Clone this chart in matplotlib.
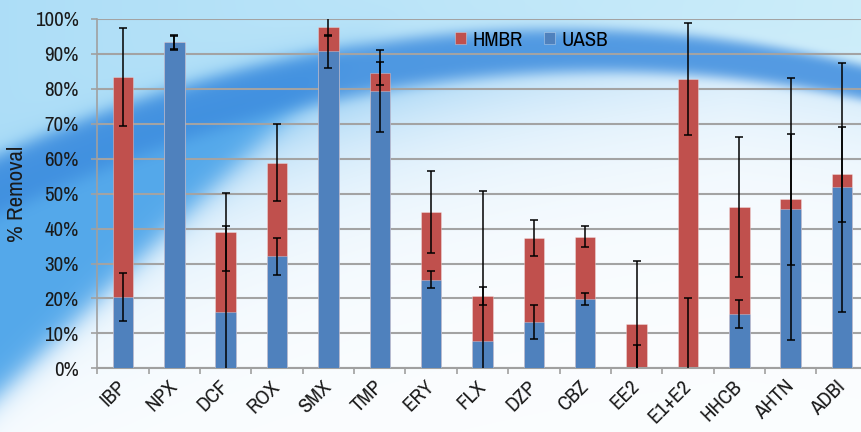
import numpy as np
import matplotlib
matplotlib.use("Agg")
import matplotlib.pyplot as plt
from matplotlib.ticker import PercentFormatter

# data (percent removal)
compounds = ["IBP", "NPX", "DCF", "ROX", "SMX", "TMP", "ERY", "FLX",
             "DZP", "CBZ", "EE2", "E1+E2", "HHCB", "AHTN", "ADBI"]
hmbr = [83.5, 93.3, 39.0, 58.9, 97.7, 84.5, 44.7, 20.7, 37.3, 37.6, 12.6, 82.8, 46.1, 48.4, 55.5]
uasb = [20.4, 93.3, 16.0, 32.1, 90.8, 79.3, 25.4, 7.8, 13.3, 19.8, 0.0, 0.0, 15.6, 45.6, 51.8]
hmbr_err_lo = [14.0, 1.9, 11.2, 11.0, 2.6, 3.3, 11.8, 2.7, 5.1, 3.0, 18.0, 16.1, 20.0, 18.7, 13.6]
hmbr_err_hi = [14.0, 1.9, 1.7, 11.0, 2.6, 3.3, 11.8, 2.7, 5.1, 3.0, 18.0, 16.1, 20.0, 18.7, 13.6]
uasb_err = [7.0, 2.2, 34.3, 5.3, 4.7, 11.7, 2.35, 43.0, 4.8, 1.8, 6.8, 20.0, 4.0, 37.5, 35.7]

RED = "#C0504D"
BLUE = "#4F81BD"

plt.rcParams['font.family'] = ['Archivo Narrow', 'Liberation Sans', 'DejaVu Sans']

W, H = 861, 432
fig = plt.figure(figsize=(W / 100, H / 100), dpi=100)

# --- background picture (blue swoosh) ---
yy, xx = np.mgrid[0:H, 0:W].astype(float)
top_l = np.array([0.68, 0.87, 0.97])
top_r = np.array([0.80, 0.93, 0.98])
mid = np.array([0.33, 0.66, 0.92])
pale = np.array([0.55, 0.79, 0.95])
white = np.array([0.985, 0.993, 1.0])
dark = np.array([0.24, 0.55, 0.87])

c = 0.0004 * (xx - 580) ** 2 + 50       # centre of the dark swoosh
hw = 32 - 0.016 * xx                    # its half width

tx = (xx / W)[..., None]
top_part = top_l * (1 - tx) + top_r * tx

# below the swoosh: pale fading to white, with a blue wedge on the left
dist = np.clip(yy - c - hw, 0, None)
f = (np.exp(-dist / 70) * np.clip(1.15 - xx / W, 0.3, 1))[..., None]
low_part = white * (1 - f) + pale * f
edge = 393 - 0.97 * xx                  # wedge boundary
wedge = (1 / (1 + np.exp((yy - edge) / 10)))[..., None]
low_part = low_part * (1 - wedge) + mid * wedge

s = (1 / (1 + np.exp((yy - c + hw * 0.6) / 10)))[..., None]
img = top_part * s + low_part * (1 - s)

band = (np.exp(-((yy - c) / hw) ** 4) * 0.85)[..., None]
img = img * (1 - band) + dark * band

bg = fig.add_axes([0, 0, 1, 1], zorder=0)
bg.imshow(np.clip(img, 0, 1), aspect="auto", extent=[0, W, H, 0])
bg.axis("off")

# --- chart ---
ax = fig.add_axes([97.3 / W, (H - 368.3) / H, 770.4 / W, 349.3 / H], zorder=1)
ax.patch.set_alpha(0)
x = np.arange(len(compounds))

ax.bar(x, np.array(hmbr) / 100, width=0.4, color=RED, label="HMBR", zorder=2,
       edgecolor=(1, 1, 1, 0.35), linewidth=0.6)
ax.bar(x, np.array(uasb) / 100, width=0.4, color=BLUE, label="UASB", zorder=3,
       edgecolor=(1, 1, 1, 0.35), linewidth=0.6)
ax.errorbar(x, np.array(uasb) / 100, yerr=np.array(uasb_err) / 100, fmt="none",
            ecolor="black", elinewidth=1.1, capsize=2.6, capthick=1.1, zorder=4)
ax.errorbar(x, np.array(hmbr) / 100,
            yerr=[np.array(hmbr_err_lo) / 100, np.array(hmbr_err_hi) / 100],
            fmt="none", ecolor="black", elinewidth=1.1, capsize=2.6, capthick=1.1, zorder=4)

ax.set_xlim(-0.5, 14.5)
ax.set_ylim(0, 1)
ax.set_yticks(np.arange(0, 1.01, 0.1))
ax.yaxis.set_major_formatter(PercentFormatter(1.0, decimals=0))
ax.grid(axis="y", color="#A3A3A3", linewidth=1.5, zorder=1)
ax.set_axisbelow(True)

for s_ in ["top", "right"]:
    ax.spines[s_].set_visible(False)
ax.spines["left"].set_color("#A0A0A0")
ax.spines["bottom"].set_color("#A0A0A0")
ax.spines["left"].set_linewidth(1.2)
ax.spines["bottom"].set_linewidth(1.5)

ax.tick_params(axis="y", length=4.5, width=1.2, color="#A0A0A0", pad=9,
               labelsize=15, labelcolor="#1a1a1a")
ax.set_xticks(x)
ax.set_xticklabels(compounds, rotation=45, ha="right", va="center",
                   rotation_mode="anchor", fontsize=15, color="#1a1a1a")
ax.tick_params(axis="x", which="major", length=0, pad=11)
ax.set_xticks(np.arange(-0.5, 15, 1), minor=True)
ax.tick_params(axis="x", which="minor", length=4, width=1.2, color="#A0A0A0")

ax.set_ylabel("% Removal", fontsize=16.5, color="#1a1a1a")
ax.yaxis.set_label_coords((27 - 97.3) / 770.4, 0.5)

ax.legend(loc="center left", bbox_to_anchor=(455 / W, 1 - 40 / H), bbox_transform=fig.transFigure,
          ncol=2, frameon=False, fontsize=15, handlelength=0.55, handleheight=0.55,
          handletextpad=0.3, columnspacing=1.0, borderpad=0, borderaxespad=0)

fig.savefig("out.png", dpi=100)
